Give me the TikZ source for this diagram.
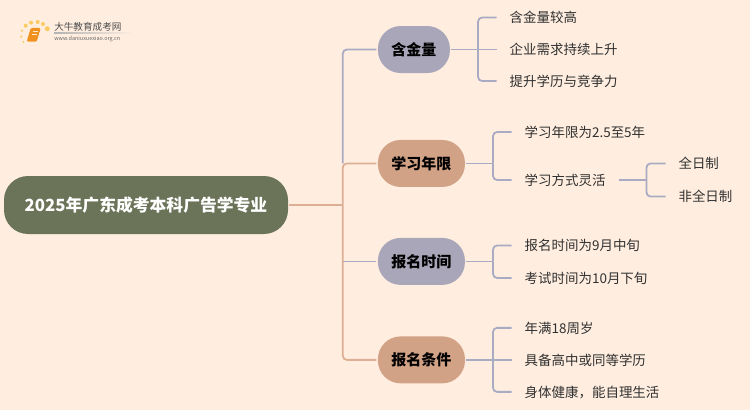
\documentclass[tikz,border=0pt]{standalone}
\usepackage{fontspec}
\usepackage{xcolor}
\setmainfont{Noto Sans CJK SC}
\usetikzlibrary{positioning}
\definecolor{pagebg}{HTML}{FFEEE0}
\definecolor{rootfill}{HTML}{6B7359}
\definecolor{slatefill}{HTML}{A8A6B8}
\definecolor{clayfill}{HTML}{D2A286}
\definecolor{slateline}{HTML}{A9ABC3}
\definecolor{clayline}{HTML}{DDAF94}
\definecolor{leaftext}{HTML}{303030}
\definecolor{bookorange}{HTML}{F0921E}
\definecolor{dotyellow}{HTML}{FBCB62}
\begin{document}
\begin{tikzpicture}[x=0.75pt, y=-0.75pt, node distance=34pt]
    \tikzstyle{pill}=[rectangle, rounded corners=17pt, align=center, minimum height=35.25pt, outer sep=1.1pt, font=\fontsize{11.25pt}{13pt}\selectfont\bfseries, text=black]
    \tikzstyle{leaf}=[rectangle, inner sep=0pt, outer xsep=9.75pt, text height=10pt, text depth=2pt, font=\fontsize{10.1pt}{12pt}\selectfont, text=leaftext]
    \tikzstyle{slate}=[draw=slateline, line width=1.35pt, rounded corners=3pt]
    \tikzstyle{clay}=[draw=clayline, line width=1.35pt, rounded corners=3pt]

    \path[fill=pagebg, use as bounding box] (0,0) rectangle (750,410);

    % logo
    \foreach \dx/\dy/\dr in {25.7/25.7/2, 31/22.7/2, 37.7/22/2, 43/24/2, 47.3/28.7/2.5, 22/30.7/1.3, 21.3/36.7/1.2, 23.3/42/1}
        \fill[dotyellow] (\dx,\dy) circle[radius=\dr];
    \fill[bookorange, rounded corners=1pt] (30.7,28) -- (40.7,28) -- (36.7,41.7) -- (26.7,41.7) -- cycle;
    \draw[white!80!bookorange, line width=0.5pt] (32.5,31) -- (37.5,31) (31.8,34) -- (36.5,34);
    \node[anchor=west, inner sep=0pt, text=black!70, font=\fontsize{7.2pt}{8pt}\selectfont] (brand) at (54,26.7) {大牛教育成考网};
    \node[anchor=west, inner sep=0pt, text=black!60, font=\fontsize{4.1pt}{5pt}\selectfont] (site) at (54,38.7) {www.daniuxuexiao.org.cn};
    \shade[left color=black!30, right color=pagebg] (54,33) rectangle (133,33.7);

    % main nodes
    \node[pill, fill=rootfill, text=white, minimum width=213pt, rounded corners=18pt, minimum height=43.5pt, font=\fontsize{12.6pt}{15pt}\selectfont\bfseries] (root) at (146,205) {2025年广东成考本科广告学专业};
    \node[pill, fill=slatefill, minimum width=54pt, right=65.25pt of root, yshift=116.6pt] (jin) {含金量};
    \node[pill, fill=clayfill, minimum width=65.25pt, below=48pt of jin.south west, anchor=north west] (nian) {学习年限};
    \node[pill, fill=slatefill, minimum width=65.25pt, below=36pt of nian.south west, anchor=north west] (shijian) {报名时间};
    \node[pill, fill=clayfill, minimum width=65.25pt, below=36.4pt of shijian.south west, anchor=north west] (tiaojian) {报名条件};

    % leaves
    \node[leaf, right=of jin, yshift=24pt] (jin1) {含金量较高};
    \node[leaf, right=of jin] (jin2) {企业需求持续上升};
    \node[leaf, right=of jin, yshift=-23.6pt] (jin3) {提升学历与竞争力};
    \node[leaf, right=of nian, yshift=23.6pt] (nian1) {学习年限为2.5至5年};
    \node[leaf, right=of nian, yshift=-12.4pt] (nian2) {学习方式灵活};
    \node[leaf, right=35.25pt of nian2, yshift=12.4pt] (quan) {全日制};
    \node[leaf, right=35.25pt of nian2, yshift=-12.4pt] (fei) {非全日制};
    \node[leaf, right=of shijian, yshift=11.9pt] (shi1) {报名时间为9月中旬};
    \node[leaf, right=of shijian, yshift=-12.4pt] (shi2) {考试时间为10月下旬};
    \node[leaf, right=of tiaojian, yshift=24pt] (tiao1) {年满18周岁};
    \node[leaf, right=of tiaojian] (tiao2) {具备高中或同等学历};
    \node[leaf, right=of tiaojian, yshift=-24pt] (tiao3) {身体健康，能自理生活};

    % bends
    \coordinate[right=40pt of root] (trunk);
    \coordinate[right=20pt of jin] (stemjin);
    \coordinate[right=20pt of nian] (stemnian);
    \coordinate[right=20pt of shijian] (stemshi);
    \coordinate[right=20pt of tiaojian] (stemtiao);
    \coordinate[right=21pt of nian2] (stemfang);

    \draw[clay] (root.east) -- (trunk);
    \draw[clay] (nian.west) -| (trunk);
    \draw[clay] (tiaojian.west) -| (trunk);
    \draw[slate] (jin.west) -| (trunk |- nian.west);
    \draw[slate] (shijian.west) -- (trunk |- shijian.west);

    \draw[slate] (jin.east) -- (jin2.west);
    \draw[slate] (jin1.west) -| (stemjin);
    \draw[slate] (jin3.west) -| (stemjin);
    \draw[slate] (nian.east) -- (stemnian);
    \draw[slate] (nian1.west) -| (stemnian);
    \draw[slate] (nian2.west) -| (stemnian);
    \draw[slate] (nian2.east) -- (stemfang);
    \draw[slate] (quan.west) -| (stemfang);
    \draw[slate] (fei.west) -| (stemfang);
    \draw[slate] (shijian.east) -- (stemshi);
    \draw[slate] (shi1.west) -| (stemshi);
    \draw[slate] (shi2.west) -| (stemshi);
    \draw[slate] (tiaojian.east) -- (tiao2.west);
    \draw[slate] (tiao1.west) -| (stemtiao);
    \draw[slate] (tiao3.west) -| (stemtiao);
\end{tikzpicture}
\end{document}
